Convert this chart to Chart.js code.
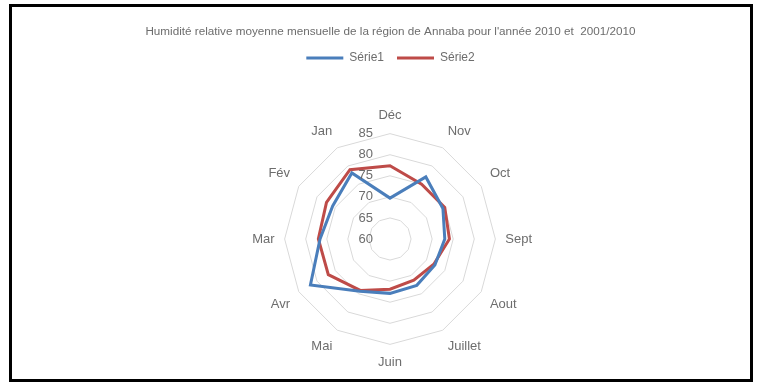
<!DOCTYPE html>
<html>
<head>
<meta charset="utf-8">
<script src="https://cdn.jsdelivr.net/npm/chart.js@4"></script>
<style>
  html, body { margin: 0; padding: 0; background: #fff; }
  #frame {
    position: absolute; left: 9px; top: 4px;
    width: 744px; height: 378px;
    box-sizing: border-box; border: 3px solid #000;
    background: #fff;
  }
  #frame canvas { display: block; }
</style>
</head>
<body>
<div id="frame"><canvas id="humidite" width="738" height="372"></canvas></div>
<script>
// Humidité relative moyenne mensuelle (%), sens horaire depuis Déc
const mois = ['Déc', 'Nov', 'Oct', 'Sept', 'Aout', 'Juillet', 'Juin', 'Mai', 'Avr', 'Mar', 'Fév', 'Jan'];
const serie1 = [69.7, 77.0, 74.5, 73.0, 72.3, 72.7, 72.9, 74.3, 81.8, 76.6, 75.7, 78.1];
const serie2 = [77.4, 75.0, 75.0, 74.1, 72.0, 71.3, 71.9, 74.1, 76.9, 77.0, 77.4, 79.0];
const graduations = [60, 65, 70, 75, 80, 85];

const titre = "Humidité relative moyenne mensuelle de la région de Annaba pour l'année 2010 et  2001/2010";
const gris = '#6d6d6d';

// valeurs de l'axe, a gauche de l'axe vertical comme dans Excel
const valeursAxe = {
    id: 'valeursAxe',
    afterDatasetsDraw(chart) {
        const r = chart.scales.r;
        const ctx = chart.ctx;
        ctx.save();
        ctx.font = '13px "Liberation Sans", Arial, sans-serif';
        ctx.fillStyle = gris;
        ctx.textAlign = 'right';
        ctx.textBaseline = 'middle';
        graduations.forEach(v => {
            const d = r.getDistanceFromCenterForValue(v);
            ctx.fillText(String(v), r.xCenter - 17, r.yCenter - d);
        });
        ctx.restore();
    }
};

// espace entre la légende et le graphique
const espaceLegende = {
    id: 'espaceLegende',
    beforeInit(chart) {
        const fit = chart.legend.fit;
        chart.legend.fit = function () {
            fit.bind(chart.legend)();
            this.height += 34;
        };
    }
};

new Chart(document.getElementById('humidite').getContext('2d'), {
    type: 'radar',
    data: {
        labels: mois,
        datasets: [{
            label: 'Série1',
            data: serie1,
            borderColor: '#4a7ebb',
            backgroundColor: '#4a7ebb',
            borderWidth: 3,
            fill: false,
            pointRadius: 0,
            tension: 0
        }, {
            label: 'Série2',
            data: serie2,
            borderColor: '#be4b48',
            backgroundColor: '#be4b48',
            borderWidth: 3,
            fill: false,
            pointRadius: 0,
            tension: 0
        }]
    },
    options: {
        responsive: false,
        animation: false,
        layout: { padding: { top: 0, bottom: 8, left: 120, right: 101 } },
        plugins: {
            title: {
                display: true,
                text: titre,
                color: gris,
                font: { family: '"Liberation Sans", sans-serif', size: 11.7, weight: 'normal' },
                padding: { top: 18, bottom: 0 }
            },
            legend: {
                display: true,
                position: 'top',
                labels: {
                    color: gris,
                    font: { family: '"Liberation Sans", sans-serif', size: 12 },
                    boxWidth: 37,
                    boxHeight: 3,
                    padding: 13,
                    generateLabels(chart) {
                        const items = Chart.defaults.plugins.legend.labels.generateLabels(chart);
                        items.forEach(it => { it.lineWidth = 0; });
                        return items;
                    }
                }
            },
            tooltip: { enabled: false }
        },
        scales: {
            r: {
                min: 60,
                max: 85,
                ticks: { stepSize: 5, display: false },
                grid: { circular: false, color: '#d9d9d9', lineWidth: 1 },
                angleLines: { display: false },
                pointLabels: {
                    color: gris,
                    padding: 10,
                    font: { family: '"Liberation Sans", sans-serif', size: 13 }
                }
            }
        }
    },
    plugins: [valeursAxe, espaceLegende]
});
</script>
</body>
</html>
